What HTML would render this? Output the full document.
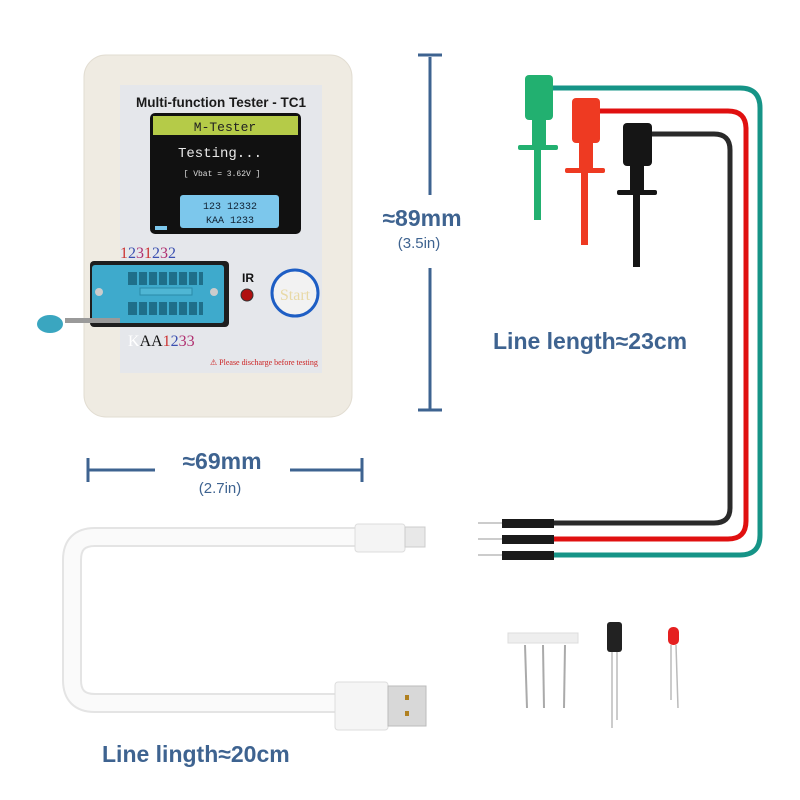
<!DOCTYPE html>
<html><head><meta charset="utf-8"><style>
html,body{margin:0;padding:0;background:#fff;width:800px;height:800px;overflow:hidden}
svg{display:block}
.s{font-family:"Liberation Sans","DejaVu Sans",sans-serif}
.m{font-family:"Liberation Mono",monospace}
.r{font-family:"Liberation Serif",serif}
</style></head><body>
<svg width="800" height="800" viewBox="0 0 800 800" xmlns="http://www.w3.org/2000/svg">
<!-- device -->
<rect x="84" y="55" width="268" height="362" rx="22" fill="#efebe2" stroke="#e2ddd2"/>
<rect x="120" y="85" width="202" height="288" fill="#e5e7eb"/>
<text class="s" x="221" y="107" font-size="13.5" font-weight="bold" text-anchor="middle" fill="#1a1a1a">Multi-function Tester - TC1</text>
<rect x="150" y="113" width="151" height="121" rx="5" fill="#111"/>
<rect x="153" y="116" width="145" height="19" fill="#b5cb48"/>
<text class="m" x="225" y="131" font-size="13" text-anchor="middle" fill="#222">M-Tester</text>
<text class="m" x="220" y="157" font-size="14" text-anchor="middle" fill="#e8e8e8">Testing...</text>
<text class="m" x="222" y="176" font-size="8" text-anchor="middle" fill="#ddd">[ Vbat = 3.62V ]</text>
<rect x="180" y="195" width="99" height="33" rx="3" fill="#7cc7ec"/>
<text class="m" x="230" y="209" font-size="10" text-anchor="middle" fill="#123">123 12332</text>
<text class="m" x="230" y="223" font-size="10" text-anchor="middle" fill="#123">KAA 1233</text>
<rect x="155" y="226" width="12" height="4" fill="#7cc7ec"/>
<text class="r" x="120" y="258" font-size="16"><tspan fill="#c33">1</tspan><tspan fill="#3a4fb0">2</tspan><tspan fill="#b03070">3</tspan><tspan fill="#c33">1</tspan><tspan fill="#3a4fb0">2</tspan><tspan fill="#b03070">3</tspan><tspan fill="#3a4fb0">2</tspan></text>
<!-- ZIF -->
<rect x="90" y="261" width="139" height="66" rx="4" fill="#1e1e1e"/>
<rect x="92" y="265" width="132" height="58" rx="3" fill="#3eaacc"/>
<g fill="#1f6f8a">
<rect x="128" y="272" width="75" height="13"/><rect x="128" y="302" width="75" height="13"/>
</g>
<g fill="#3eaacc"><rect x="137" y="272" width="2" height="13"/><rect x="147" y="272" width="2" height="13"/><rect x="157" y="272" width="2" height="13"/><rect x="167" y="272" width="2" height="13"/><rect x="177" y="272" width="2" height="13"/><rect x="187" y="272" width="2" height="13"/><rect x="197" y="272" width="2" height="13"/>
<rect x="137" y="302" width="2" height="13"/><rect x="147" y="302" width="2" height="13"/><rect x="157" y="302" width="2" height="13"/><rect x="167" y="302" width="2" height="13"/><rect x="177" y="302" width="2" height="13"/><rect x="187" y="302" width="2" height="13"/><rect x="197" y="302" width="2" height="13"/></g>
<rect x="140" y="288" width="52" height="7" fill="#4fb6d4" stroke="#2a8aa8"/>
<circle cx="99" cy="292" r="4" fill="#ccc"/><circle cx="214" cy="292" r="4" fill="#ccc"/>
<rect x="65" y="318" width="55" height="5" fill="#9a9a9a"/>
<ellipse cx="50" cy="324" rx="13" ry="9" fill="#3aa6c0"/>
<text class="r" x="128" y="346" font-size="16"><tspan fill="#fff">K</tspan><tspan fill="#111">AA</tspan><tspan fill="#c33">1</tspan><tspan fill="#3a4fb0">2</tspan><tspan fill="#b03070">33</tspan></text>
<text class="s" x="248" y="282" font-size="12" font-weight="bold" text-anchor="middle" fill="#111">IR</text>
<circle cx="247" cy="295" r="6" fill="#b01010" stroke="#333"/>
<circle cx="295" cy="293" r="23" fill="#f2f2f2" stroke="#1e5ec4" stroke-width="3"/>
<text class="r" x="295" y="300" font-size="16" text-anchor="middle" fill="#e8d9a6">Start</text>
<text class="r" x="210" y="365" font-size="8" fill="#c22">⚠ Please discharge before testing</text>
<!-- dims -->
<g stroke="#3e6390" stroke-width="3" fill="none">
<line x1="430" y1="57" x2="430" y2="195"/><line x1="430" y1="268" x2="430" y2="410"/>
<line x1="418" y1="55" x2="442" y2="55"/><line x1="418" y1="410" x2="442" y2="410"/>
<line x1="88" y1="470" x2="155" y2="470"/><line x1="290" y1="470" x2="362" y2="470"/>
<line x1="88" y1="458" x2="88" y2="482"/><line x1="362" y1="458" x2="362" y2="482"/>
</g>
<text class="s" x="422" y="226" font-size="23" font-weight="bold" text-anchor="middle" fill="#3e6390">≈89mm</text>
<text class="s" x="419" y="248" font-size="15" text-anchor="middle" fill="#3e6390">(3.5in)</text>
<text class="s" x="222" y="469" font-size="23" font-weight="bold" text-anchor="middle" fill="#3e6390">≈69mm</text>
<text class="s" x="220" y="493" font-size="15" text-anchor="middle" fill="#3e6390">(2.7in)</text>
<text class="s" x="493" y="349" font-size="23" font-weight="bold" fill="#3e6390">Line length≈23cm</text>
<text class="s" x="102" y="762" font-size="23" font-weight="bold" fill="#3e6390">Line lingth≈20cm</text>
<!-- wires -->
<g fill="none" stroke-width="5">
<path d="M550 88 H740 Q760 88 760 108 V535 Q760 555 740 555 H553" stroke="#169487"/>
<path d="M598 111 H728 Q746 111 746 129 V521 Q746 539 728 539 H553" stroke="#e01010"/>
<path d="M650 134 H714 Q730 134 730 150 V508 Q730 523 714 523 H553" stroke="#2a2a2a"/>
</g>
<g fill="#1a1a1a"><rect x="502" y="519" width="52" height="9"/><rect x="502" y="535" width="52" height="9"/><rect x="502" y="551" width="52" height="9"/></g>
<g stroke="#bbb" stroke-width="1.5"><line x1="478" y1="523" x2="502" y2="523"/><line x1="478" y1="539" x2="502" y2="539"/><line x1="478" y1="555" x2="502" y2="555"/></g>
<!-- clips -->
<g fill="#22b070"><rect x="525" y="75" width="28" height="45" rx="4"/><rect x="532" y="120" width="14" height="28"/><rect x="518" y="145" width="40" height="5" rx="2"/><rect x="534" y="150" width="7" height="70"/></g>
<g fill="#ee3a22"><rect x="572" y="98" width="28" height="45" rx="4"/><rect x="579" y="143" width="14" height="28"/><rect x="565" y="168" width="40" height="5" rx="2"/><rect x="581" y="173" width="7" height="72"/></g>
<g fill="#151515"><rect x="623" y="123" width="29" height="43" rx="4"/><rect x="630" y="166" width="14" height="27"/><rect x="617" y="190" width="40" height="5" rx="2"/><rect x="633" y="195" width="7" height="72"/></g>
<!-- usb cable -->
<path d="M360 537 H95 Q72 537 72 560 V680 Q72 703 95 703 H340" fill="none" stroke="#e4e4e4" stroke-width="20"/>
<path d="M360 537 H95 Q72 537 72 560 V680 Q72 703 95 703 H340" fill="none" stroke="#fafafa" stroke-width="16"/>
<rect x="355" y="524" width="50" height="28" rx="3" fill="#f4f4f4" stroke="#ddd"/>
<rect x="405" y="527" width="20" height="20" fill="#e8e8e8" stroke="#ccc"/>
<rect x="335" y="682" width="53" height="48" rx="3" fill="#f5f5f5" stroke="#ddd"/>
<rect x="388" y="686" width="38" height="40" fill="#d8d8d8" stroke="#bbb"/>
<rect x="405" y="695" width="4" height="5" fill="#b08020"/><rect x="405" y="711" width="4" height="5" fill="#b08020"/>
<!-- components -->
<rect x="508" y="633" width="70" height="10" fill="#eee" stroke="#ddd"/>
<g stroke="#aaa" stroke-width="2"><line x1="525" y1="645" x2="527" y2="708"/><line x1="543" y1="645" x2="544" y2="708"/><line x1="565" y1="645" x2="564" y2="708"/></g>
<rect x="607" y="622" width="15" height="30" rx="3" fill="#222"/>
<g stroke="#bbb" stroke-width="1.5"><line x1="612" y1="652" x2="612" y2="728"/><line x1="617" y1="652" x2="617" y2="720"/></g>
<rect x="668" y="627" width="11" height="18" rx="5" fill="#e52020"/>
<g stroke="#bbb" stroke-width="1.5"><line x1="671" y1="645" x2="671" y2="700"/><line x1="676" y1="645" x2="678" y2="708"/></g>
</svg>
</body></html>
